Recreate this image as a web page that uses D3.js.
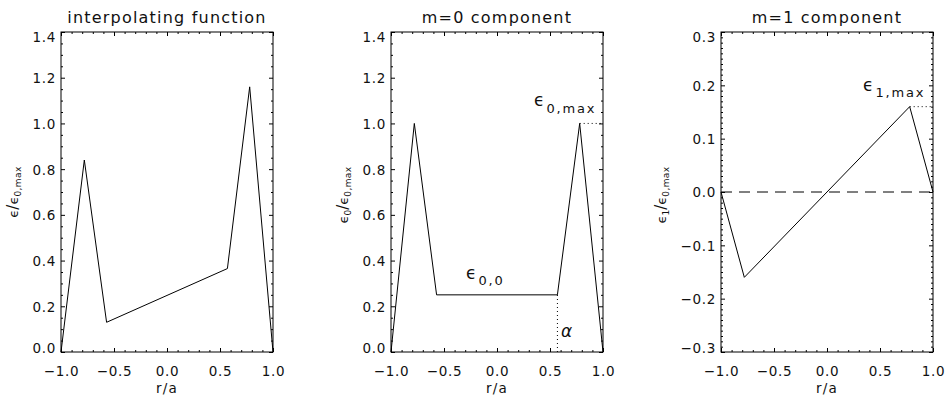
<!DOCTYPE html>
<html>
<head>
<meta charset="utf-8">
<script src="https://cdn.jsdelivr.net/npm/d3@7"></script>
<style>
  html, body { margin: 0; padding: 0; background: #fff; }
  svg text { font-family: "DejaVu Sans", sans-serif; fill: #111; }
</style>
</head>
<body>
<svg id="chart" width="949" height="404"></svg>
<script>
// ---- data ----
const rNodes = [-1.0, -0.78, -0.57, 0.57, 0.78, 1.0];
const interpValues = [0.0, 0.84, 0.13, 0.365, 1.16, 0.0];
const m0Values = [0.0, 1.0, 0.25, 0.25, 1.0, 0.0];
const rNodesM1 = [-1.0, -0.78, 0.78, 1.0];
const m1Values = [0.0, -0.16, 0.16, 0.0];
const alphaValue = 0.57;
const eps0max = 1.0;
const eps00 = 0.25;
const eps1max = 0.16;

const titles = ["interpolating function", "m=0 component", "m=1 component"];
const xTicks = [-1.0, -0.5, 0.0, 0.5, 1.0];
const yTicksA = [0.0, 0.2, 0.4, 0.6, 0.8, 1.0, 1.2, 1.4];
const yTicksC = [-0.3, -0.2, -0.1, 0.0, 0.1, 0.2, 0.3];

const svg = d3.select("#chart");
const plotTop = 32, plotBottom = 352;
const fmt = d => (d < 0 ? "\u2212" : "") + Math.abs(d).toFixed(1);

function panel(left, right, yDomain, yTicks, yMinorStep, title) {
  const x = d3.scaleLinear().domain([-1, 1]).range([left, right]);
  const y = d3.scaleLinear().domain(yDomain).range([plotBottom, plotTop]);
  const g = svg.append("g");
  const xMinor = d3.range(-10, 11).map(i => i / 10).filter(v => !xTicks.some(t => Math.abs(t - v) < 1e-9));
  const nMinor = Math.round((yDomain[1] - yDomain[0]) / yMinorStep);
  const yMinor = d3.range(0, nMinor + 1).map(i => +(yDomain[0] + i * yMinorStep).toFixed(4))
    .filter(v => !yTicks.some(t => Math.abs(t - v) < 1e-9));

  const style = sel => {
    sel.select(".domain").remove();
    sel.selectAll("line").attr("stroke", "#000").attr("stroke-width", 1);
  };
  const ff = '"DejaVu Sans", sans-serif';
  // bottom
  const bx = g.append("g").attr("transform", `translate(0,${plotBottom})`)
    .call(d3.axisBottom(x).tickValues(xTicks).tickSize(-4).tickPadding(14).tickFormat(fmt));
  style(bx);
  bx.selectAll("text").attr("font-size", 13.5).attr("letter-spacing", 0.7).attr("font-family", ff).attr("fill", "#111");
  const bxm = g.append("g").attr("transform", `translate(0,${plotBottom})`)
    .call(d3.axisBottom(x).tickValues(xMinor).tickSize(-2).tickFormat(""));
  style(bxm);
  // top
  const tx = g.append("g").attr("transform", `translate(0,${plotTop})`)
    .call(d3.axisTop(x).tickValues(xTicks).tickSize(-4).tickFormat(""));
  style(tx);
  const txm = g.append("g").attr("transform", `translate(0,${plotTop})`)
    .call(d3.axisTop(x).tickValues(xMinor).tickSize(-2).tickFormat(""));
  style(txm);
  // left
  const ly = g.append("g").attr("transform", `translate(${left},0)`)
    .call(d3.axisLeft(y).tickValues(yTicks).tickSize(-4).tickPadding(5).tickFormat(fmt));
  style(ly);
  ly.selectAll("text").attr("font-size", 13.5).attr("letter-spacing", 0.7).attr("font-family", ff).attr("fill", "#111")
    .attr("dy", "0.36em")
    .attr("y", d => {
      const py = y(d);
      if (py - plotTop < 5) return 5 + plotTop - py;
      if (plotBottom - py < 4) return -(4 - (plotBottom - py));
      return 0;
    });
  const lym = g.append("g").attr("transform", `translate(${left},0)`)
    .call(d3.axisLeft(y).tickValues(yMinor).tickSize(-2).tickFormat(""));
  style(lym);
  // right
  const ry = g.append("g").attr("transform", `translate(${right},0)`)
    .call(d3.axisRight(y).tickValues(yTicks).tickSize(-4).tickFormat(""));
  style(ry);
  const rym = g.append("g").attr("transform", `translate(${right},0)`)
    .call(d3.axisRight(y).tickValues(yMinor).tickSize(-2).tickFormat(""));
  style(rym);
  // frame
  g.append("rect").attr("x", left).attr("y", plotTop).attr("width", right - left).attr("height", plotBottom - plotTop)
    .attr("fill", "none").attr("stroke", "#000").attr("stroke-width", 1);
  // title
  g.append("text").attr("x", (left + right) / 2).attr("y", 23).attr("text-anchor", "middle")
    .attr("font-size", 16).attr("letter-spacing", 1.2).text(title);
  // x label
  g.append("text").attr("x", (left + right) / 2).attr("y", 393).attr("text-anchor", "middle")
    .attr("font-size", 13.5).attr("letter-spacing", 1.2).text("r/a");
  return { g, x, y };
}

const line = (x, y) => d3.line().x(d => x(d[0])).y(d => y(d[1]));

// ---- panel 1 ----
const p1 = panel(61, 273, [0, 1.4], yTicksA, 0.05, titles[0]);
p1.g.append("path").datum(rNodes.map((r, i) => [r, interpValues[i]]))
  .attr("d", line(p1.x, p1.y)).attr("fill", "none").attr("stroke", "#000").attr("stroke-width", 1);
{
  const t = p1.g.append("text").attr("transform", `translate(18,192) rotate(-90)`).attr("text-anchor", "middle").attr("font-size", 13);
  t.append("tspan").text("\u03F5");
  t.append("tspan").attr("font-size", 15).text("/");
  t.append("tspan").text("\u03F5");
  t.append("tspan").attr("font-size", 9).attr("dy", 3).attr("letter-spacing", 0.4).text("0,max");
}

// ---- panel 2 ----
const p2 = panel(391, 603, [0, 1.4], yTicksA, 0.05, titles[1]);
p2.g.append("path").datum(rNodes.map((r, i) => [r, m0Values[i]]))
  .attr("d", line(p2.x, p2.y)).attr("fill", "none").attr("stroke", "#000").attr("stroke-width", 1);
p2.g.append("line").attr("x1", p2.x(alphaValue)).attr("x2", p2.x(alphaValue))
  .attr("y1", p2.y(0)).attr("y2", p2.y(eps00))
  .attr("stroke", "#000").attr("stroke-dasharray", "1,3");
p2.g.append("line").attr("x1", p2.x(rNodes[4])).attr("x2", p2.x(1))
  .attr("y1", p2.y(eps0max)).attr("y2", p2.y(eps0max))
  .attr("stroke", "#000").attr("stroke-dasharray", "1,3");
{
  const t = p2.g.append("text").attr("transform", `translate(348,195) rotate(-90)`).attr("text-anchor", "middle").attr("font-size", 13);
  t.append("tspan").text("\u03F5");
  t.append("tspan").attr("font-size", 9).attr("dy", 3).text("0");
  t.append("tspan").attr("dy", -3).attr("font-size", 15).text("/");
  t.append("tspan").text("\u03F5");
  t.append("tspan").attr("font-size", 9).attr("dy", 3).attr("letter-spacing", 0.4).text("0,max");
  const a = p2.g.append("text").attr("x", 534).attr("y", 106).attr("font-size", 17);
  a.append("tspan").text("\u03F5");
  a.append("tspan").attr("font-size", 13).attr("dy", 7).attr("dx", 2).attr("letter-spacing", 1.8).text("0,max");
  const b = p2.g.append("text").attr("x", 466).attr("y", 279).attr("font-size", 17);
  b.append("tspan").text("\u03F5");
  b.append("tspan").attr("font-size", 13).attr("dy", 6).attr("dx", 2).attr("letter-spacing", 1.8).text("0,0");
  p2.g.append("text").attr("x", 561).attr("y", 337).attr("font-size", 17).attr("font-style", "italic").text("\u03B1");
}

// ---- panel 3 ----
const p3 = panel(721, 933, [-0.3, 0.3], yTicksC, 0.01, titles[2]);
p3.g.append("line").attr("x1", p3.x(-1)).attr("x2", p3.x(1))
  .attr("y1", p3.y(0)).attr("y2", p3.y(0))
  .attr("stroke", "#000").attr("stroke-dasharray", "11,7");
p3.g.append("path").datum(rNodesM1.map((r, i) => [r, m1Values[i]]))
  .attr("d", line(p3.x, p3.y)).attr("fill", "none").attr("stroke", "#000").attr("stroke-width", 1);
p3.g.append("line").attr("x1", p3.x(rNodesM1[2])).attr("x2", p3.x(1))
  .attr("y1", p3.y(eps1max)).attr("y2", p3.y(eps1max))
  .attr("stroke", "#000").attr("stroke-dasharray", "1,3");
{
  const t = p3.g.append("text").attr("transform", `translate(666,195) rotate(-90)`).attr("text-anchor", "middle").attr("font-size", 13);
  t.append("tspan").text("\u03F5");
  t.append("tspan").attr("font-size", 9).attr("dy", 3).text("1");
  t.append("tspan").attr("dy", -3).attr("font-size", 15).text("/");
  t.append("tspan").text("\u03F5");
  t.append("tspan").attr("font-size", 9).attr("dy", 3).attr("letter-spacing", 0.4).text("0,max");
  const a = p3.g.append("text").attr("x", 863).attr("y", 91).attr("font-size", 17);
  a.append("tspan").text("\u03F5");
  a.append("tspan").attr("font-size", 13).attr("dy", 6).attr("dx", 2).attr("letter-spacing", 1.8).text("1,max");
}
</script>
</body>
</html>
